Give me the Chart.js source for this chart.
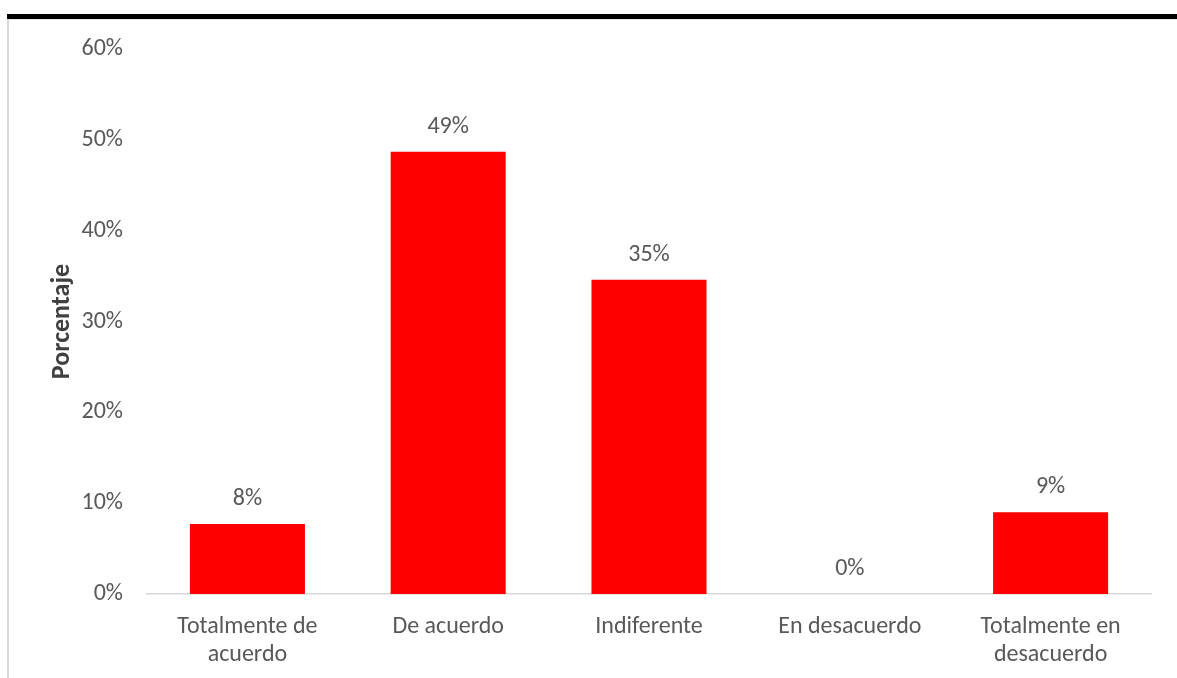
<!DOCTYPE html>
<html>
<head>
<meta charset="utf-8">
<script src="https://cdn.jsdelivr.net/npm/chart.js@4"></script>
<style>
    html, body { margin: 0; padding: 0; background: #fff; }
    .wrap { position: relative; width: 1177px; height: 678px; overflow: hidden; }
    .top-rule { position: absolute; left: 7px; right: 0; top: 14px; height: 5px; background: #000; }
    .frame { position: absolute; left: 7px; right: 0; top: 19px; bottom: -2px; border-left: 2px solid #d9d9d9; border-top: 1px solid #e2e2e2; }
    .wrap canvas { position: absolute; left: 0; top: 0; }
</style>
</head>
<body>
<div class="wrap">
    <div class="top-rule"></div>
    <div class="frame"></div>
    <canvas id="chart" width="1177" height="678"></canvas>
</div>
<script>
// Chart data
const categories = [
    ['Totalmente de', 'acuerdo'],
    'De acuerdo',
    'Indiferente',
    'En desacuerdo',
    ['Totalmente en', 'desacuerdo']
];
const percentages = [7.7, 48.7, 34.6, 0, 9.0];
const yTicks = [0, 10, 20, 30, 40, 50, 60];

const textColor = '#595959';
const fontFamily = 'Calibri, Carlito, Lato, sans-serif';

// Draw value labels above each bar
const valueLabels = {
    id: 'valueLabels',
    afterDatasetsDraw(chart) {
        const ctx = chart.ctx;
        const meta = chart.getDatasetMeta(0);
        ctx.save();
        ctx.font = '24px ' + fontFamily;
        ctx.fillStyle = textColor;
        ctx.textAlign = 'center';
        ctx.textBaseline = 'middle';
        meta.data.forEach((bar, i) => {
            ctx.fillText(Math.round(percentages[i]) + '%', bar.x, bar.y - 25);
        });
        ctx.restore();
    }
};

new Chart(document.getElementById('chart'), {
    type: 'bar',
    data: {
        labels: categories,
        datasets: [{
            data: percentages,
            backgroundColor: '#ff0000',
            borderWidth: 0,
            categoryPercentage: 1,
            barPercentage: 0.573
        }]
    },
    options: {
        responsive: false,
        animation: false,
        layout: { padding: { top: 49, right: 26, bottom: 0, left: 0 } },
        plugins: {
            legend: { display: false },
            tooltip: { enabled: false }
        },
        scales: {
            x: {
                grid: { display: false },
                border: { display: true, color: '#d9d9d9', width: 1.5 },
                ticks: {
                    color: textColor,
                    font: { family: fontFamily, size: 24, lineHeight: 1.17 },
                    padding: 11,
                    maxRotation: 0,
                    autoSkip: false
                },
                afterFit(scale) { scale.height = 84; }
            },
            y: {
                min: 0,
                max: 60,
                afterBuildTicks(scale) { scale.ticks = yTicks.map(v => ({ value: v })); },
                grid: { display: false, drawTicks: false },
                border: { display: false },
                ticks: {
                    color: textColor,
                    font: { family: fontFamily, size: 24 },
                    padding: 24,
                    callback: v => v + '%'
                },
                title: {
                    display: true,
                    text: 'Porcentaje',
                    color: '#404040',
                    font: { family: fontFamily, size: 26, weight: 'bold' },
                    padding: { top: 47, bottom: 0 }
                },
                afterFit(scale) { scale.width = 147; }
            }
        }
    },
    plugins: [valueLabels]
});
</script>
</body>
</html>
